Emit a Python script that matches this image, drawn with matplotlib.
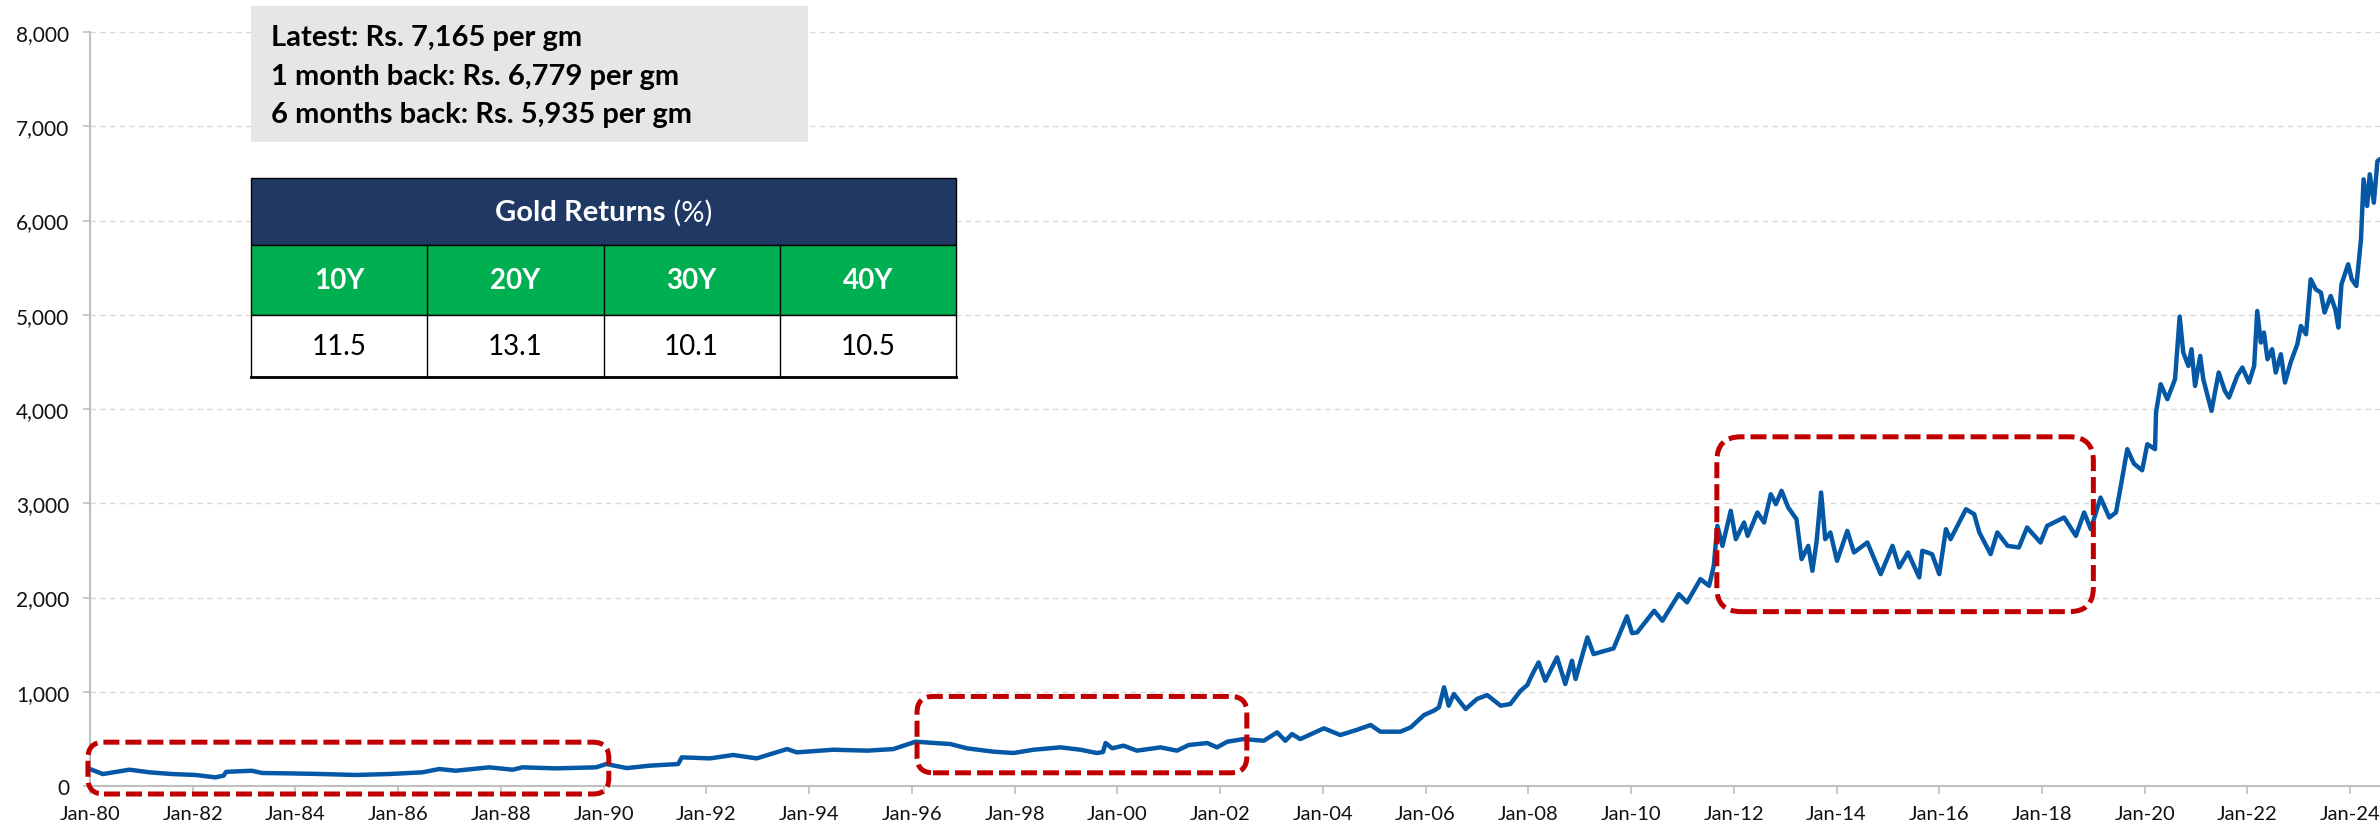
import matplotlib
matplotlib.use("Agg")
import matplotlib.pyplot as plt
from matplotlib.patches import FancyBboxPatch, Rectangle
from matplotlib.ticker import FuncFormatter, MultipleLocator

plt.rcParams['font.family'] = ['Lato', 'DejaVu Sans']

# Gold price in Rs per gm, x as decimal year
years = [
    1980.00, 1980.25, 1980.45, 1980.77, 1981.16, 1981.60, 1982.05, 1982.44, 1982.60, 1982.65,
    1983.15, 1983.35, 1983.87, 1984.52, 1985.17, 1985.82, 1986.47, 1986.80, 1987.12, 1987.77,
    1988.23, 1988.42, 1989.07, 1989.85, 1990.05, 1990.45, 1990.90, 1991.45, 1991.52, 1992.07,
    1992.52, 1992.98, 1993.57, 1993.76, 1994.47, 1995.13, 1995.64, 1996.07, 1996.75, 1997.07,
    1997.59, 1997.98, 1998.37, 1998.89, 1999.28, 1999.60, 1999.72, 1999.77, 1999.90, 2000.12,
    2000.38, 2000.84, 2001.16, 2001.39, 2001.75, 2001.94, 2002.14, 2002.46, 2002.85, 2003.11,
    2003.27, 2003.40, 2003.56, 2004.02, 2004.34, 2004.67, 2004.93, 2005.12, 2005.51, 2005.71,
    2005.97, 2006.16, 2006.26, 2006.36, 2006.45, 2006.55, 2006.78, 2007.00, 2007.20, 2007.46,
    2007.65, 2007.85, 2007.98, 2008.08, 2008.20, 2008.33, 2008.56, 2008.72, 2008.85, 2008.92,
    2009.15, 2009.27, 2009.66, 2009.92, 2010.02, 2010.12, 2010.45, 2010.61, 2010.93, 2011.09,
    2011.35, 2011.52, 2011.61, 2011.68, 2011.78, 2011.94, 2012.04, 2012.20, 2012.27, 2012.46,
    2012.59, 2012.72, 2012.82, 2012.93, 2013.06, 2013.22, 2013.32, 2013.45, 2013.53, 2013.61,
    2013.70, 2013.78, 2013.88, 2014.01, 2014.21, 2014.34, 2014.60, 2014.86, 2015.09, 2015.22,
    2015.39, 2015.61, 2015.67, 2015.86, 2016.00, 2016.13, 2016.22, 2016.52, 2016.68, 2016.78,
    2017.00, 2017.13, 2017.33, 2017.55, 2017.71, 2017.97, 2018.10, 2018.43, 2018.66, 2018.82,
    2018.95, 2019.14, 2019.31, 2019.44, 2019.53, 2019.66, 2019.79, 2019.95, 2020.05, 2020.20,
    2020.22, 2020.31, 2020.44, 2020.59, 2020.68, 2020.75, 2020.85, 2020.91, 2020.98, 2021.08,
    2021.14, 2021.30, 2021.44, 2021.56, 2021.64, 2021.80, 2021.90, 2022.03, 2022.13, 2022.19,
    2022.26, 2022.32, 2022.39, 2022.48, 2022.55, 2022.65, 2022.73, 2022.84, 2022.97, 2023.04,
    2023.14, 2023.23, 2023.33, 2023.43, 2023.50, 2023.62, 2023.71, 2023.77, 2023.83, 2023.96,
    2024.03, 2024.12, 2024.21, 2024.26, 2024.33, 2024.38, 2024.46, 2024.53, 2024.58,
]
prices = [
    180, 127, 145, 173, 145, 127, 117, 92, 110, 150,
    162, 138, 134, 127, 117, 127, 145, 180, 162, 198,
    173, 198, 187, 198, 233, 190, 216, 233, 304, 293,
    329, 293, 392, 357, 385, 375, 392, 470, 445, 400,
    364, 350, 385, 410, 385, 350, 360, 456, 400, 428,
    375, 410, 375, 435, 456, 410, 470, 498, 480, 569,
    480, 551, 498, 612, 541, 597, 647, 576, 576, 622,
    753, 799, 834, 1047, 852, 976, 817, 923, 965, 852,
    870, 1011, 1071, 1188, 1311, 1117, 1365, 1082, 1329, 1135,
    1577, 1400, 1460, 1800, 1622, 1630, 1859, 1753, 2036, 1948,
    2195, 2124, 2336, 2760, 2548, 2920, 2619, 2796, 2654, 2902,
    2796, 3096, 2990, 3132, 2955, 2831, 2407, 2548, 2283, 2584,
    3114, 2619, 2690, 2389, 2707, 2478, 2584, 2248, 2548, 2319,
    2478, 2213, 2496, 2460, 2248, 2725, 2619, 2937, 2884, 2690,
    2460, 2690, 2548, 2531, 2743, 2584, 2760, 2849, 2654, 2902,
    2725, 3060, 2849, 2902, 3170, 3574, 3420, 3350, 3627, 3574,
    3963, 4263, 4104, 4316, 4981, 4599, 4457, 4634, 4245, 4563,
    4316, 3980, 4387, 4192, 4122, 4351, 4440, 4281, 4457, 5040,
    4705, 4811, 4528, 4634, 4387, 4581, 4281, 4493, 4687, 4881,
    4793, 5376, 5270, 5235, 5023, 5199, 5058, 4864, 5323, 5536,
    5376, 5305, 5801, 6437, 6154, 6490, 6189, 6631, 6650,
]

summary_lines = [
    "Latest: Rs. 7,165 per gm",
    "1 month back: Rs. 6,779 per gm",
    "6 months back: Rs. 5,935 per gm",
]
return_periods = ["10Y", "20Y", "30Y", "40Y"]
return_values = [11.5, 13.1, 10.1, 10.5]

# sideways phases: (from year, to year, low, high)
flat_phases = [
    (1979.96, 1990.10, -85, 465),
    (1996.10, 2002.52, 140, 950),
    (2011.67, 2019.00, 1850, 3705),
]
corner_px = [16, 16, 24]

W, H = 2380, 829
fig = plt.figure(figsize=(W / 100, H / 100), dpi=100)
ax = fig.add_axes([90 / W, 1 - 787 / H, 1 - 90 / W, (787 - 33) / H])

ax.plot(years, prices, color='#0558A5', lw=3.2, zorder=3, solid_joinstyle='round')

ax.set_xlim(1980, 2024.58)
ax.set_ylim(0, 8000)
ax.xaxis.set_major_locator(MultipleLocator(2))
ax.xaxis.set_major_formatter(FuncFormatter(lambda v, p: 'Jan-%02d' % (int(round(v)) % 100)))
ax.yaxis.set_major_locator(MultipleLocator(1000))
ax.yaxis.set_major_formatter(FuncFormatter(lambda v, p: '{:,.0f}'.format(v)))
ax.grid(axis='y', color='#D9D9D9', lw=1.0, ls=(0, (4, 3)))
ax.set_axisbelow(True)
for s in ['top', 'right']:
    ax.spines[s].set_visible(False)
for s in ['left', 'bottom']:
    ax.spines[s].set_color('#BFBFBF')
    ax.spines[s].set_linewidth(1.5)
ax.tick_params(axis='x', length=6, width=1.2, color='#BFBFBF', pad=8, labelsize=14.5, labelcolor='#111111')
ax.tick_params(axis='y', length=5, width=1.2, color='#BFBFBF', pad=10, labelsize=15, labelcolor='#111111')


def fig_xy(x, y):
    # pixel position from the top-left corner -> figure fraction
    return x / W, 1 - y / H


# red dashed rounded boxes around the flat phases
to_fig = ax.transData + fig.transFigure.inverted()
for (x0, x1, lo, hi), r in zip(flat_phases, corner_px):
    (fx0, fy0), (fx1, fy1) = to_fig.transform([(x0, lo), (x1, hi)])
    box = FancyBboxPatch((fx0, fy0), fx1 - fx0, fy1 - fy0,
                         boxstyle='round,pad=0,rounding_size=%f' % (r / W),
                         mutation_aspect=W / H, transform=fig.transFigure,
                         fill=False, ec='#C00000', lw=3.6, ls=(0, (3.2, 1.2)),
                         capstyle='butt', zorder=2)
    fig.add_artist(box)
    box.set_clip_on(False)

# grey summary box
x0, y0 = fig_xy(251, 143)
x1, y1 = fig_xy(808, 7)
fig.add_artist(Rectangle((x0, y0), x1 - x0, y1 - y0, transform=fig.transFigure,
                         fc='#E7E6E6', ec='none', zorder=5))
for line, base in zip(summary_lines, [46, 85, 123]):
    fig.text(271 / W, 1 - base / H, line, fontsize=21, fontweight='bold',
             va='baseline', ha='left', color='black', zorder=6)

# returns table
tl, tr = 251, 956
col_w = (tr - tl) / len(return_periods)
rows = [(179, 246, '#203864'), (246, 316, '#00B050'), (316, 378, 'white')]
for top, bot, colour in rows:
    bx, by = fig_xy(tl, bot)
    fig.add_artist(Rectangle((bx, by), (tr - tl) / W, (bot - top) / H, transform=fig.transFigure,
                             fc=colour, ec='black', lw=1.0, zorder=5))
for i in range(1, len(return_periods)):
    xx = (tl + i * col_w) / W
    fig.add_artist(plt.Line2D([xx, xx], [1 - 378 / H, 1 - 246 / H], transform=fig.transFigure,
                              color='black', lw=1.0, zorder=6))
fig.add_artist(plt.Line2D([tl / W, tr / W], [1 - 378 / H, 1 - 378 / H], transform=fig.transFigure,
                          color='black', lw=2.0, zorder=6))

# header: bold title with a regular "(%)"
renderer = fig.canvas.get_renderer()
t1 = fig.text(0, 1 - 213 / H, "Gold Returns", fontsize=21, fontweight='bold', color='white',
              va='center', ha='left', zorder=7)
t2 = fig.text(0, 1 - 213 / H, " (%)", fontsize=21, color='white', va='center', ha='left', zorder=7)
w1 = t1.get_window_extent(renderer).width
w2 = t2.get_window_extent(renderer).width
start = (tl + tr) / 2 - (w1 + w2) / 2
t1.set_x(start / W)
t2.set_x((start + w1) / W)

for i, (per, val) in enumerate(zip(return_periods, return_values)):
    cx = (tl + (i + 0.5) * col_w) / W
    fig.text(cx, 1 - 281 / H, per, fontsize=20, fontweight='bold', color='white',
             ha='center', va='center', zorder=7)
    fig.text(cx, 1 - 347 / H, '%.1f' % val, fontsize=20, color='black',
             ha='center', va='center', zorder=7)

fig.savefig('out.png', dpi=100)
